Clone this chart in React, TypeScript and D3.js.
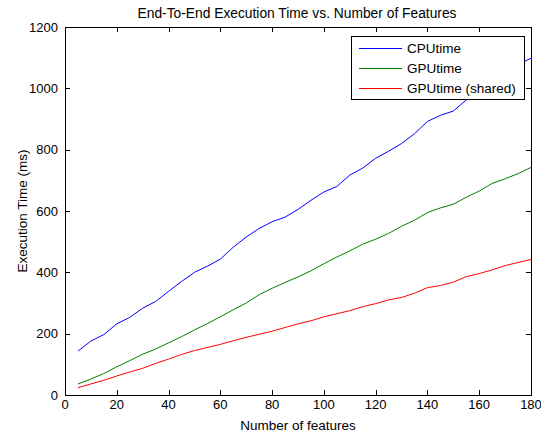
import { useEffect, useRef } from "react";
import * as d3 from "d3";

// number of features (x)
const features = [
  5, 10, 15, 20, 25, 30, 35, 40, 45, 50, 55, 60, 65, 70, 75, 80, 85, 90, 95,
  100, 105, 110, 115, 120, 125, 130, 135, 140, 145, 150, 155, 160, 165, 170,
  175, 180,
];

const cpuTime = [
  143, 176, 197, 232, 253, 283, 305, 338, 370, 400, 420, 443, 482, 515, 543,
  565, 580, 605, 635, 662, 680, 717, 740, 772, 795, 820, 852, 892, 912, 926,
  962, 1000, 1030, 1060, 1078, 1098,
];

const gpuTime = [
  36, 52, 70, 92, 112, 133, 150, 170, 190, 212, 233, 255, 278, 300, 327, 348,
  367, 385, 405, 428, 450, 470, 492, 508, 527, 550, 570, 595, 610, 622, 645,
  665, 690, 705, 722, 742,
];

const gpuShared = [
  24, 36, 48, 62, 75, 87, 103, 117, 132, 145, 155, 165, 177, 188, 198, 208,
  220, 232, 242, 255, 265, 275, 288, 298, 310, 318, 332, 350, 357, 368, 386,
  396, 408, 422, 432, 442,
];

const xTicks = [0, 20, 40, 60, 80, 100, 120, 140, 160, 180];
const yTicks = [0, 200, 400, 600, 800, 1000, 1200];

const seriesNames = ["CPUtime", "GPUtime", "GPUtime (shared)"];
const seriesColors = ["#0000ff", "#008000", "#ff0000"];

const W = 541;
const H = 433;
const FONT = "Arial, 'Liberation Sans', Helvetica, sans-serif";

const App = () => {
  const svgRef = useRef<SVGSVGElement>(null);

  useEffect(() => {
    const svg = d3.select(svgRef.current);
    svg.selectAll("*").remove();

    const left = 65;
    const right = 531;
    const top = 27;
    const bottom = 395;

    const x = d3.scaleLinear().domain([0, 180]).range([left, right]);
    const y = d3.scaleLinear().domain([0, 1200]).range([bottom, top]);
    const tick = 5;

    svg.append("rect").attr("width", W).attr("height", H).attr("fill", "#fff");

    // Series lines
    const series = [cpuTime, gpuTime, gpuShared];
    const line = d3
      .line<number>()
      .x((_, i) => x(features[i]))
      .y((d) => y(d));

    series.forEach((vals, i) => {
      svg
        .append("path")
        .datum(vals)
        .attr("fill", "none")
        .attr("stroke", seriesColors[i])
        .attr("stroke-width", 1)
        .attr("d", line);
    });

    // Axes box
    svg
      .append("rect")
      .attr("x", left + 0.5)
      .attr("y", top + 0.5)
      .attr("width", right - left)
      .attr("height", bottom - top)
      .attr("fill", "none")
      .attr("stroke", "#000")
      .attr("stroke-width", 1);

    // Inward ticks on all four sides
    const ticks = svg.append("g").attr("stroke", "#000").attr("stroke-width", 1);
    xTicks.forEach((t) => {
      const px = Math.round(x(t)) + 0.5;
      ticks.append("line").attr("x1", px).attr("x2", px).attr("y1", bottom).attr("y2", bottom - tick);
      ticks.append("line").attr("x1", px).attr("x2", px).attr("y1", top).attr("y2", top + tick);
    });
    yTicks.forEach((t) => {
      const py = Math.round(y(t)) + 0.5;
      ticks.append("line").attr("x1", left).attr("x2", left + tick).attr("y1", py).attr("y2", py);
      ticks.append("line").attr("x1", right).attr("x2", right - tick).attr("y1", py).attr("y2", py);
    });

    // Tick labels
    svg
      .append("g")
      .selectAll("text")
      .data(xTicks)
      .join("text")
      .attr("x", (d) => x(d))
      .attr("y", bottom + 14)
      .attr("text-anchor", "middle")
      .attr("font-family", FONT)
      .attr("font-size", 13)
      .text((d) => d);

    svg
      .append("g")
      .selectAll("text")
      .data(yTicks)
      .join("text")
      .attr("x", left - 7)
      .attr("y", (d) => y(d) + 4.5)
      .attr("text-anchor", "end")
      .attr("font-family", FONT)
      .attr("font-size", 13)
      .text((d) => d);

    // Title and axis labels
    svg
      .append("text")
      .attr("x", 297)
      .attr("y", 18)
      .attr("text-anchor", "middle")
      .attr("font-family", FONT)
      .attr("font-size", 13.8)
      .text("End-To-End Execution Time vs. Number of Features");

    svg
      .append("text")
      .attr("x", (left + right) / 2)
      .attr("y", 430)
      .attr("text-anchor", "middle")
      .attr("font-family", FONT)
      .attr("font-size", 13.5)
      .text("Number of features");

    svg
      .append("text")
      .attr("transform", `translate(27,${(top + bottom) / 2}) rotate(-90)`)
      .attr("text-anchor", "middle")
      .attr("font-family", FONT)
      .attr("font-size", 13.5)
      .text("Execution Time (ms)");

    // Legend
    const lg = svg.append("g");
    lg.append("rect")
      .attr("x", 351.5)
      .attr("y", 36.5)
      .attr("width", 173)
      .attr("height", 63)
      .attr("fill", "#fff")
      .attr("stroke", "#000");

    seriesNames.forEach((name, i) => {
      const cy = 48 + i * 20;
      lg.append("line")
        .attr("x1", 359)
        .attr("x2", 402)
        .attr("y1", cy + 0.5)
        .attr("y2", cy + 0.5)
        .attr("stroke", seriesColors[i]);
      lg.append("text")
        .attr("x", 407)
        .attr("y", cy + 5)
        .attr("font-family", FONT)
        .attr("font-size", 13.5)
        .text(name);
    });
  }, []);

  return (
    <svg
      ref={svgRef}
      width={W}
      height={H}
      style={{ position: "absolute", left: 0, top: 0 }}
    ></svg>
  );
};

export default App;
